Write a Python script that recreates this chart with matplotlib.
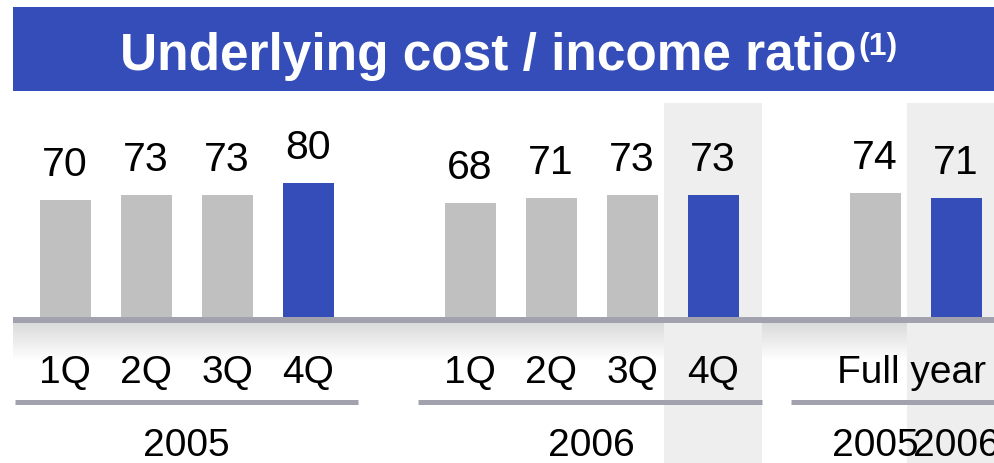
import numpy as np
import matplotlib.pyplot as plt
from matplotlib.patches import Rectangle

plt.rcParams['font.family'] = ['Liberation Sans', 'DejaVu Sans']

# data
quarters = ['1Q', '2Q', '3Q', '4Q']
ratio_2005 = [70, 73, 73, 80]
ratio_2006 = [68, 71, 73, 73]
full_year_years = ['2005', '2006']
ratio_full_year = [74, 71]
group_years = ['2005', '2006']

BLUE = '#354db8'
GREY_BAR = '#c0c0c0'
SHADE = '#eeeeee'
RULE = '#a2a2ae'

W, H = 994, 464
fig = plt.figure(figsize=(W / 100, H / 100), dpi=100)
ax = fig.add_axes([0, 0, 1, 1])
ax.axis('off')

# layout: one bar slot = 81 px, 1 ratio point = 1.675 px, baseline 318 px from top
SLOT = 81.0
X0 = 65.0
PPU = 1.675
BASE = 318.0


def px(x):
    return (x - X0) / SLOT


def py(y):
    return (BASE - y) / PPU


pos_2005 = np.arange(4)
pos_2006 = np.arange(4) + 5
pos_fy = np.arange(2) + 10

# highlighted columns (latest periods)
for c in [pos_2006[-1], pos_fy[-1]]:
    ax.add_patch(Rectangle((c - 0.605, py(H)), 1.21, py(104) - py(H),
                           facecolor=SHADE, edgecolor='none', zorder=1))

# gradient band below the baseline
grad = np.linspace(0.85, 1.0, 64)[:, None]
ax.imshow(grad, cmap='gray', vmin=0, vmax=1, aspect='auto', zorder=0,
          extent=[px(13), px(W + 5), py(362), py(322)])
for c in [pos_2006[-1], pos_fy[-1]]:
    ax.add_patch(Rectangle((c - 0.605, py(362)), 1.21, py(324) - py(362),
                           facecolor=SHADE, edgecolor='none', zorder=0.5))

bar_w = 51 / SLOT
all_pos = list(pos_2005) + list(pos_2006) + list(pos_fy)
all_val = ratio_2005 + ratio_2006 + ratio_full_year
colors = ([GREY_BAR] * 3 + [BLUE]) * 2 + [GREY_BAR, BLUE]
ax.bar(all_pos, all_val, width=bar_w, color=colors, zorder=2)

for p, v in zip(all_pos, all_val):
    ax.annotate(str(v), (p, v), xytext=(0, 25 * 0.72), textcoords='offset points',
                ha='center', va='baseline', fontsize=29.5, color='black', zorder=4)

# baseline rule
ax.plot([px(13), px(W + 5)], [py(321), py(321)], color=RULE, lw=4.3,
        solid_capstyle='butt', zorder=3)

# category labels
for p, q in zip(list(pos_2005) + list(pos_2006), quarters * 2):
    ax.text(p, py(383), q, ha='center', va='baseline', fontsize=28, zorder=4)
ax.text(pos_fy.mean() - 0.05, py(383), 'Full year', ha='center', va='baseline',
        fontsize=28, zorder=4)

# group rules and year labels
spans = [(px(15), px(358)), (px(418), px(762)), (px(791), px(W + 5))]
for x0, x1 in spans:
    ax.plot([x0, x1], [py(403), py(403)], color=RULE, lw=3.6,
            solid_capstyle='butt', zorder=3)
for pos, yr in zip([pos_2005, pos_2006], group_years):
    ax.text(pos.mean(), py(456), yr, ha='center', va='baseline', fontsize=28, zorder=4)
for p, yr in zip(pos_fy, full_year_years):
    ax.text(p, py(456), yr, ha='center', va='baseline', fontsize=28, zorder=4)

ax.set_xlim(px(0), px(W))
ax.set_ylim(py(H), py(0))

# title banner
fig.patches.append(Rectangle((13 / W, 1 - 92 / H), 1, 84 / H, transform=fig.transFigure,
                             facecolor=BLUE, edgecolor='none', zorder=0))
t = fig.text(120 / W, 1 - 70 / H, 'Underlying cost / income ratio', color='white',
             fontsize=37, fontweight='bold', ha='left', va='baseline')
fig.canvas.draw()
bb = t.get_window_extent(fig.canvas.get_renderer())
fig.text(bb.x1 / W + 2 / W, 1 - 55 / H, '(1)', color='white', fontsize=23,
         fontweight='bold', ha='left', va='baseline')

fig.savefig('out.png', dpi=100)
